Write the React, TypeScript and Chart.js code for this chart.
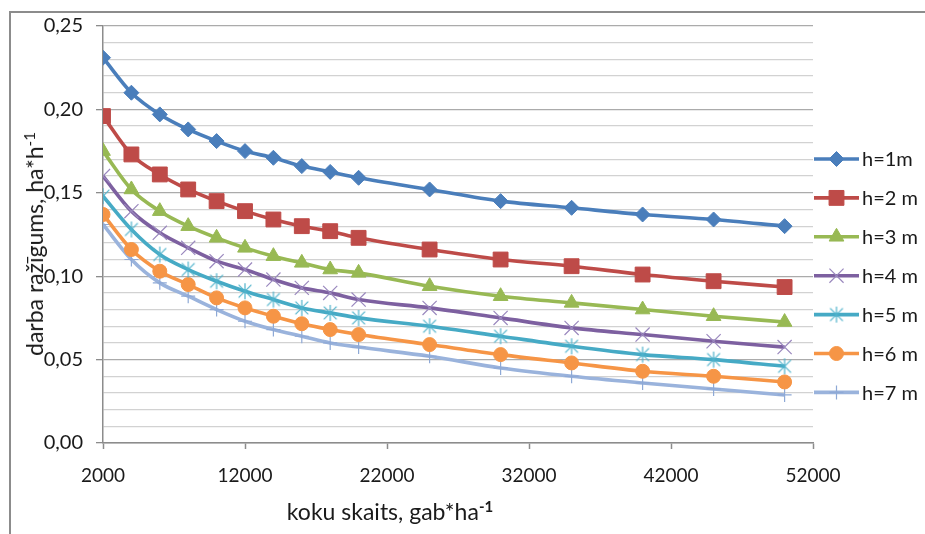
import React, { useEffect, useRef } from "react";
import { Chart, registerables } from "chart.js";
import { drawPoint } from "chart.js/helpers";

Chart.register(...registerables);

// Tree density (trees per hectare) on the x axis
const treeCounts = [2000, 4000, 6000, 8000, 10000, 12000, 14000, 16000, 18000, 20000, 25000, 30000, 35000, 40000, 45000, 50000];

// Productivity (ha per hour) for each working height
const h1 = [0.231, 0.210, 0.197, 0.188, 0.181, 0.175, 0.171, 0.166, 0.1625, 0.159, 0.152, 0.145, 0.141, 0.137, 0.134, 0.130];
const h2 = [0.196, 0.173, 0.161, 0.152, 0.145, 0.139, 0.134, 0.130, 0.127, 0.123, 0.116, 0.110, 0.106, 0.101, 0.097, 0.0935];
const h3 = [0.175, 0.152, 0.139, 0.130, 0.123, 0.117, 0.112, 0.108, 0.104, 0.102, 0.094, 0.088, 0.084, 0.080, 0.076, 0.0725];
const h4 = [0.160, 0.139, 0.126, 0.117, 0.109, 0.104, 0.098, 0.093, 0.090, 0.086, 0.081, 0.075, 0.069, 0.065, 0.061, 0.0575];
const h5 = [0.148, 0.128, 0.113, 0.104, 0.097, 0.091, 0.086, 0.081, 0.078, 0.075, 0.070, 0.064, 0.058, 0.053, 0.050, 0.046];
const h6 = [0.137, 0.116, 0.103, 0.095, 0.087, 0.081, 0.076, 0.0715, 0.068, 0.065, 0.059, 0.053, 0.048, 0.043, 0.040, 0.0366];
const h7 = [0.131, 0.110, 0.096, 0.088, 0.080, 0.073, 0.068, 0.064, 0.060, 0.0575, 0.052, 0.045, 0.040, 0.036, 0.0324, 0.0288];

const seriesLabels = ["h=1m", "h=2 m", "h=3 m", "h=4 m", "h=5 m", "h=6 m", "h=7 m"];
const seriesValues = [h1, h2, h3, h4, h5, h6, h7];

// x axis ticks: 2000 .. 52000 every 10000; y axis: 0 .. 0.25, labelled every 0.05
const xMin = 2000;
const xMax = 52000;
const xStep = 10000;
const yMin = 0;
const yMax = 0.25;
const yMinorStep = 0.01;

const FONT = "Lato, 'Open Sans', sans-serif";
const TEXT = "#1a1a1a";

function makeStar(color: string, size: number): HTMLCanvasElement {
  const c = document.createElement("canvas");
  c.width = size;
  c.height = size;
  const g = c.getContext("2d")!;
  const m = size / 2;
  const r = size / 2 - 1;
  g.strokeStyle = color;
  g.lineWidth = 1.2;
  g.beginPath();
  g.moveTo(m, m - r);
  g.lineTo(m, m + r);
  g.moveTo(m - r * 0.8, m - r * 0.8);
  g.lineTo(m + r * 0.8, m + r * 0.8);
  g.moveTo(m + r * 0.8, m - r * 0.8);
  g.lineTo(m - r * 0.8, m + r * 0.8);
  g.stroke();
  return c;
}

const sideLegend = {
  id: "sideLegend",
  afterDraw(chart: any) {
    const ctx = chart.ctx as CanvasRenderingContext2D;
    const top = 159;
    const gap = 38.9;
    const x0 = 814;
    const x1 = 859;
    chart.data.datasets.forEach((ds: any, i: number) => {
      const y = top + i * gap;
      ctx.save();
      ctx.strokeStyle = ds.borderColor;
      ctx.lineWidth = ds.borderWidth;
      ctx.beginPath();
      ctx.moveTo(x0, y);
      ctx.lineTo(x1, y);
      ctx.stroke();
      ctx.fillStyle = ds.pointBackgroundColor;
      ctx.strokeStyle = ds.pointBorderColor;
      ctx.lineWidth = ds.pointBorderWidth;
      drawPoint(
        ctx,
        { pointStyle: ds.pointStyle, rotation: 0, radius: ds.pointRadius, borderWidth: ds.pointBorderWidth } as any,
        (x0 + x1) / 2,
        y
      );
      ctx.fillStyle = TEXT;
      ctx.font = `20px ${FONT}`;
      ctx.textBaseline = "middle";
      ctx.textAlign = "left";
      ctx.fillText(ds.label, 862, y + 1);
      ctx.restore();
    });
  },
};

function isMajor(v: number) {
  return Math.round(v * 100) % 5 === 0;
}

export default function App() {
  const canvasRef = useRef<HTMLCanvasElement | null>(null);

  useEffect(() => {
    const canvas = canvasRef.current;
    if (!canvas) return;

    const styles = [
      { line: "#4A7EBB", fill: "#4A7EBB", border: "#4A7EBB", style: "rectRot" as any, radius: 7.5, bw: 1 },
      { line: "#BE4B48", fill: "#BE4B48", border: "#BE4B48", style: "rect" as any, radius: 10.5, bw: 1 },
      { line: "#98B954", fill: "#98B954", border: "#98B954", style: "triangle" as any, radius: 8.5, bw: 1 },
      { line: "#7D60A0", fill: "rgba(0,0,0,0)", border: "#9A88BE", style: "crossRot" as any, radius: 10, bw: 1.2 },
      { line: "#46AAC5", fill: "rgba(0,0,0,0)", border: "#5BB8D0", style: makeStar("#4FB2CB", 18) as any, radius: 9, bw: 1 },
      { line: "#F69546", fill: "#F69546", border: "#F69546", style: "circle" as any, radius: 7, bw: 1 },
      { line: "#9AB3DC", fill: "rgba(0,0,0,0)", border: "#8EA9D6", style: "cross" as any, radius: 7, bw: 1.2 },
    ];

    // drawn in reverse so the h=1 curve ends up on top
    const datasets = seriesValues
      .map((vals, i) => ({
        label: seriesLabels[i],
        data: treeCounts.map((x, j) => ({ x, y: vals[j] })),
        borderColor: styles[i].line,
        borderWidth: 3.6,
        backgroundColor: styles[i].line,
        pointStyle: styles[i].style,
        pointRadius: styles[i].radius,
        pointBackgroundColor: styles[i].fill,
        pointBorderColor: styles[i].border,
        pointBorderWidth: styles[i].bw,
        cubicInterpolationMode: "monotone" as const,
        fill: false,
        order: i,
      }));

    const chart = new Chart(canvas, {
      type: "line",
      data: { datasets: datasets as any },
      options: {
        animation: false,
        responsive: false,
        devicePixelRatio: 1,
        events: [],
        layout: { padding: { left: 0, top: 26, right: 112, bottom: 0 } },
        plugins: { legend: { display: false }, tooltip: { enabled: false } },
        scales: {
          x: {
            type: "linear",
            min: xMin,
            max: xMax,
            afterFit: (s: any) => {
              s.height = 91;
            },
            border: { color: "#8c8c8c", width: 1.5 },
            grid: { drawOnChartArea: false, drawTicks: true, tickLength: 6, tickColor: "#8c8c8c", tickWidth: 1.5 },
            ticks: {
              stepSize: xStep,
              padding: 15,
              color: TEXT,
              font: { family: FONT, size: 19 },
              maxRotation: 0,
              autoSkip: false,
              callback: (v: any) => String(v),
            },
          },
          y: {
            type: "linear",
            min: yMin,
            max: yMax,
            afterFit: (s: any) => {
              s.width = 103;
            },
            border: { color: "#8c8c8c", width: 1.5 },
            grid: {
              color: (c: any) => (c.tick && isMajor(c.tick.value) ? "#ababab" : "#d2d2d2"),
              lineWidth: 1.3,
              tickLength: 7,
              tickColor: (c: any) => (c.tick && isMajor(c.tick.value) ? "#8c8c8c" : "rgba(0,0,0,0)"),
            },
            ticks: {
              stepSize: yMinorStep,
              padding: 13,
              color: TEXT,
              autoSkip: false,
              font: { family: FONT, size: 20 },
              callback: (v: any) => {
                const n = Number(v);
                if (!isMajor(n)) return "";
                return (Math.round(n * 100) / 100).toFixed(2).replace(".", ",");
              },
            },
          },
        },
      },
      plugins: [sideLegend],
    });

    return () => chart.destroy();
  }, []);

  return (
    <div
      style={{
        position: "fixed",
        left: 0,
        top: 0,
        width: 925,
        height: 534,
        background: "#fff",
        overflow: "hidden",
        fontFamily: FONT,
        color: TEXT,
      }}
    >
      <div
        style={{
          position: "absolute",
          left: 9,
          top: 11,
          right: 0,
          bottom: 0,
          borderTop: "2px solid #8c8c8c",
          borderLeft: "2px solid #8c8c8c",
        }}
      />
      <canvas ref={canvasRef} width={925} height={534} style={{ position: "absolute", left: 0, top: 0 }} />
      <div
        style={{
          position: "absolute",
          left: 34,
          top: 244,
          transform: "translate(-50%, -50%) rotate(-90deg)",
          whiteSpace: "nowrap",
          fontSize: 23,
          lineHeight: 1,
        }}
      >
        darba ražīgums, ha*h<sup style={{ fontSize: 15, verticalAlign: "8px" }}>-1</sup>
      </div>
      <div
        style={{
          position: "absolute",
          left: 390,
          top: 511,
          transform: "translate(-50%, -50%)",
          whiteSpace: "nowrap",
          fontSize: 23,
          lineHeight: 1,
        }}
      >
        koku skaits, gab*ha<sup style={{ fontSize: 15, fontWeight: 700, verticalAlign: "8px" }}>-1</sup>
      </div>
    </div>
  );
}
